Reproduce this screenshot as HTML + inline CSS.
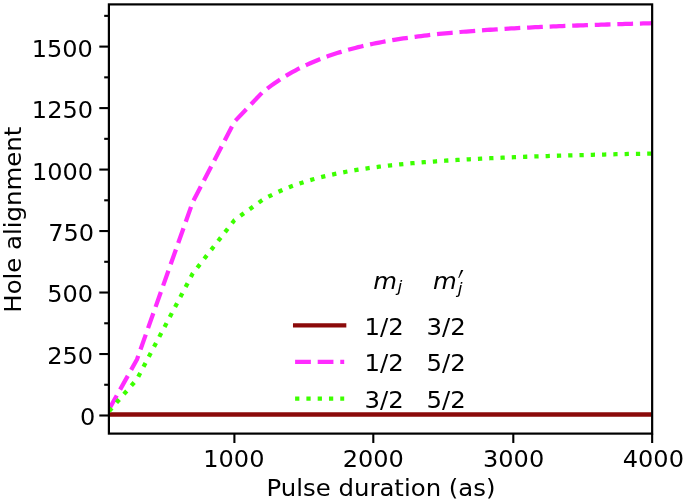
<!DOCTYPE html>
<html><head><meta charset="utf-8"><title>Hole alignment vs pulse duration</title>
<style>
html,body{margin:0;padding:0;background:#fff;width:685px;height:502px;overflow:hidden}
svg{display:block}
text{font-family:"DejaVu Sans","Liberation Sans",sans-serif;font-size:24.4px;fill:#000}
.it{font-style:oblique}
</style></head><body>
<svg width="685" height="502" viewBox="0 0 685 502">
<defs><clipPath id="ax"><rect x="108.9" y="4.4" width="543.25" height="429.20000000000005"/></clipPath></defs>
<rect width="685" height="502" fill="#fff"/>

<g clip-path="url(#ax)" fill="none" stroke-width="4.26">
<line x1="105.9" y1="414.5" x2="655.15" y2="414.5" stroke="#8b0a0a"/>
<polyline points="109.07,409.30 136.95,359.50 192.65,202.30 234.40,121.70 262.20,92.60 265.20,90.19 268.20,87.87 271.20,85.63 274.20,83.49 277.20,81.42 280.20,79.43 283.20,77.52 286.20,75.68 289.20,73.91 292.20,72.21 295.20,70.57 298.20,68.99 301.20,67.48 304.20,66.01 307.20,64.61 310.20,63.25 313.20,61.95 316.20,60.69 319.20,59.48 322.20,58.31 325.20,57.19 328.20,56.10 331.20,55.06 334.20,54.05 337.20,53.08 340.20,52.14 343.20,51.24 346.20,50.37 349.20,49.53 352.20,48.72 355.20,47.94 358.20,47.18 361.20,46.45 364.20,45.75 367.20,45.07 370.20,44.41 373.20,43.77 376.20,43.16 379.20,42.57 382.20,41.99 385.20,41.44 388.20,40.90 391.20,40.38 394.20,39.88 397.20,39.40 400.20,38.93 403.20,38.47 406.20,38.03 409.20,37.60 412.20,37.19 415.20,36.79 418.20,36.40 421.20,36.02 424.20,35.65 427.20,35.30 430.20,34.95 433.20,34.62 436.20,34.29 439.20,33.98 442.20,33.67 445.20,33.37 448.20,33.08 451.20,32.80 454.20,32.53 457.20,32.26 460.20,32.00 463.20,31.75 466.20,31.51 469.20,31.27 472.20,31.03 475.20,30.81 478.20,30.59 481.20,30.37 484.20,30.16 487.20,29.95 490.20,29.75 493.20,29.56 496.20,29.37 499.20,29.18 502.20,29.00 505.20,28.82 508.20,28.65 511.20,28.48 514.20,28.31 517.20,28.15 520.20,27.99 523.20,27.84 526.20,27.68 529.20,27.53 532.20,27.39 535.20,27.24 538.20,27.10 541.20,26.97 544.20,26.83 547.20,26.70 550.20,26.57 553.20,26.44 556.20,26.32 559.20,26.20 562.20,26.08 565.20,25.96 568.20,25.84 571.20,25.73 574.20,25.61 577.20,25.50 580.20,25.40 583.20,25.29 586.20,25.19 589.20,25.08 592.20,24.98 595.20,24.88 598.20,24.78 601.20,24.69 604.20,24.59 607.20,24.50 610.20,24.40 613.20,24.31 616.20,24.22 619.20,24.14 622.20,24.05 625.20,23.96 628.20,23.88 631.20,23.80 634.20,23.71 637.20,23.63 640.20,23.55 643.20,23.47 646.20,23.39 649.20,23.32 652.15,23.24" stroke="#ff2cff" stroke-dasharray="15.76 6.82" stroke-linejoin="round"/>
<polyline points="109.07,411.20 136.95,379.30 192.65,273.60 234.40,220.20 262.20,200.12 265.20,198.43 268.20,196.82 271.20,195.27 274.20,193.79 277.20,192.37 280.20,191.01 283.20,189.70 286.20,188.46 289.20,187.26 292.20,186.11 295.20,185.01 298.20,183.96 301.20,182.94 304.20,181.97 307.20,181.04 310.20,180.14 313.20,179.28 316.20,178.46 319.20,177.66 322.20,176.90 325.20,176.17 328.20,175.46 331.20,174.78 334.20,174.13 337.20,173.50 340.20,172.89 343.20,172.31 346.20,171.74 349.20,171.20 352.20,170.68 355.20,170.17 358.20,169.69 361.20,169.22 364.20,168.76 367.20,168.33 370.20,167.90 373.20,167.49 376.20,167.10 379.20,166.72 382.20,166.35 385.20,165.99 388.20,165.64 391.20,165.30 394.20,164.98 397.20,164.66 400.20,164.36 403.20,164.06 406.20,163.77 409.20,163.49 412.20,163.22 415.20,162.96 418.20,162.70 421.20,162.46 424.20,162.21 427.20,161.98 430.20,161.75 433.20,161.53 436.20,161.31 439.20,161.10 442.20,160.90 445.20,160.70 448.20,160.50 451.20,160.31 454.20,160.13 457.20,159.95 460.20,159.77 463.20,159.60 466.20,159.43 469.20,159.27 472.20,159.11 475.20,158.95 478.20,158.80 481.20,158.65 484.20,158.50 487.20,158.36 490.20,158.22 493.20,158.08 496.20,157.95 499.20,157.82 502.20,157.69 505.20,157.56 508.20,157.44 511.20,157.32 514.20,157.20 517.20,157.09 520.20,156.97 523.20,156.86 526.20,156.75 529.20,156.64 532.20,156.54 535.20,156.44 538.20,156.33 541.20,156.24 544.20,156.14 547.20,156.04 550.20,155.95 553.20,155.86 556.20,155.77 559.20,155.68 562.20,155.59 565.20,155.50 568.20,155.42 571.20,155.34 574.20,155.25 577.20,155.17 580.20,155.10 583.20,155.02 586.20,154.94 589.20,154.87 592.20,154.79 595.20,154.72 598.20,154.65 601.20,154.58 604.20,154.51 607.20,154.44 610.20,154.37 613.20,154.31 616.20,154.24 619.20,154.18 622.20,154.12 625.20,154.05 628.20,153.99 631.20,153.93 634.20,153.87 637.20,153.82 640.20,153.76 643.20,153.70 646.20,153.65 649.20,153.59 652.15,153.54" stroke="#3cff00" stroke-dasharray="4.26 7.03" stroke-linejoin="round"/>
</g>
<g stroke="#000" stroke-width="2.1">
<line x1="99.3" y1="415.50" x2="108.9" y2="415.50"/>
<line x1="99.3" y1="354.02" x2="108.9" y2="354.02"/>
<line x1="99.3" y1="292.53" x2="108.9" y2="292.53"/>
<line x1="99.3" y1="231.05" x2="108.9" y2="231.05"/>
<line x1="99.3" y1="169.57" x2="108.9" y2="169.57"/>
<line x1="99.3" y1="108.09" x2="108.9" y2="108.09"/>
<line x1="99.3" y1="46.60" x2="108.9" y2="46.60"/>
<line x1="104.2" y1="384.76" x2="108.9" y2="384.76"/>
<line x1="104.2" y1="323.28" x2="108.9" y2="323.28"/>
<line x1="104.2" y1="261.79" x2="108.9" y2="261.79"/>
<line x1="104.2" y1="200.31" x2="108.9" y2="200.31"/>
<line x1="104.2" y1="138.83" x2="108.9" y2="138.83"/>
<line x1="104.2" y1="77.35" x2="108.9" y2="77.35"/>
<line x1="104.2" y1="15.86" x2="108.9" y2="15.86"/>
<line x1="234.40" y1="433.6" x2="234.40" y2="443.0"/>
<line x1="373.30" y1="433.6" x2="373.30" y2="443.0"/>
<line x1="513.30" y1="433.6" x2="513.30" y2="443.0"/>
<line x1="652.15" y1="433.6" x2="652.15" y2="443.0"/>
</g>
<rect x="108.9" y="4.4" width="543.25" height="429.20" fill="none" stroke="#000" stroke-width="2.2" stroke-linejoin="miter"/>
<text transform="translate(95.20,424.90) scale(0.985,0.96)" text-anchor="end">0</text>
<text transform="translate(93.00,363.52) scale(0.985,0.96)" text-anchor="end">250</text>
<text transform="translate(93.10,302.03) scale(0.985,0.96)" text-anchor="end">500</text>
<text transform="translate(94.00,240.65) scale(0.985,0.96)" text-anchor="end">750</text>
<text transform="translate(93.10,179.97) scale(0.985,0.96)" text-anchor="end">1000</text>
<text transform="translate(93.00,117.89) scale(0.985,0.96)" text-anchor="end">1250</text>
<text transform="translate(92.90,56.70) scale(0.985,0.96)" text-anchor="end">1500</text>
<text transform="translate(233.85,466.60) scale(0.985,0.96)" text-anchor="middle">1000</text>
<text transform="translate(373.20,466.60) scale(0.985,0.96)" text-anchor="middle">2000</text>
<text transform="translate(513.60,466.60) scale(0.985,0.96)" text-anchor="middle">3000</text>
<text transform="translate(653.35,466.60) scale(0.985,0.96)" text-anchor="middle">4000</text>
<text transform="translate(381.00,495.80) scale(1,0.96)" text-anchor="middle">Pulse duration (as)</text>
<text transform="translate(20.7,219.7) rotate(-90) scale(1,0.96)" text-anchor="middle">Hole alignment</text>
<line x1="295.1" y1="325.35" x2="344.2" y2="325.35" stroke="#8b0a0a" stroke-width="4.26" stroke-linecap="square"/>
<line x1="295.1" y1="361.9" x2="344.2" y2="361.9" stroke="#ff2cff" stroke-width="4.26" stroke-dasharray="15.76 6.82"/>
<line x1="295.1" y1="398.6" x2="344.2" y2="398.6" stroke="#3cff00" stroke-width="4.26" stroke-dasharray="4.26 7.03"/>
<text transform="translate(364.50,335.10) scale(1,0.96)">1/2</text>
<text transform="translate(426.60,335.10) scale(1,0.96)">3/2</text>
<text transform="translate(364.50,371.45) scale(1,0.96)">1/2</text>
<text transform="translate(426.60,371.45) scale(1,0.96)">5/2</text>
<text transform="translate(364.50,407.80) scale(1,0.96)">3/2</text>
<text transform="translate(426.60,407.80) scale(1,0.96)">5/2</text>
<text transform="translate(373.2,288.7) scale(1,0.96)" class="it">m<tspan style="font-size:17.08px" dx="0.6" dy="3.5">j</tspan></text>
<text transform="translate(432.9,288.7) scale(1,0.96)" class="it">m<tspan style="font-size:17.08px" dx="1.0" dy="6.0">j</tspan></text>
<text transform="translate(453.0,291.6) skewX(-16) scale(0.72,1)" x="0" y="0" style="font-family:&quot;Liberation Serif&quot;,serif;font-size:33.6px">′</text>
</svg></body></html>
